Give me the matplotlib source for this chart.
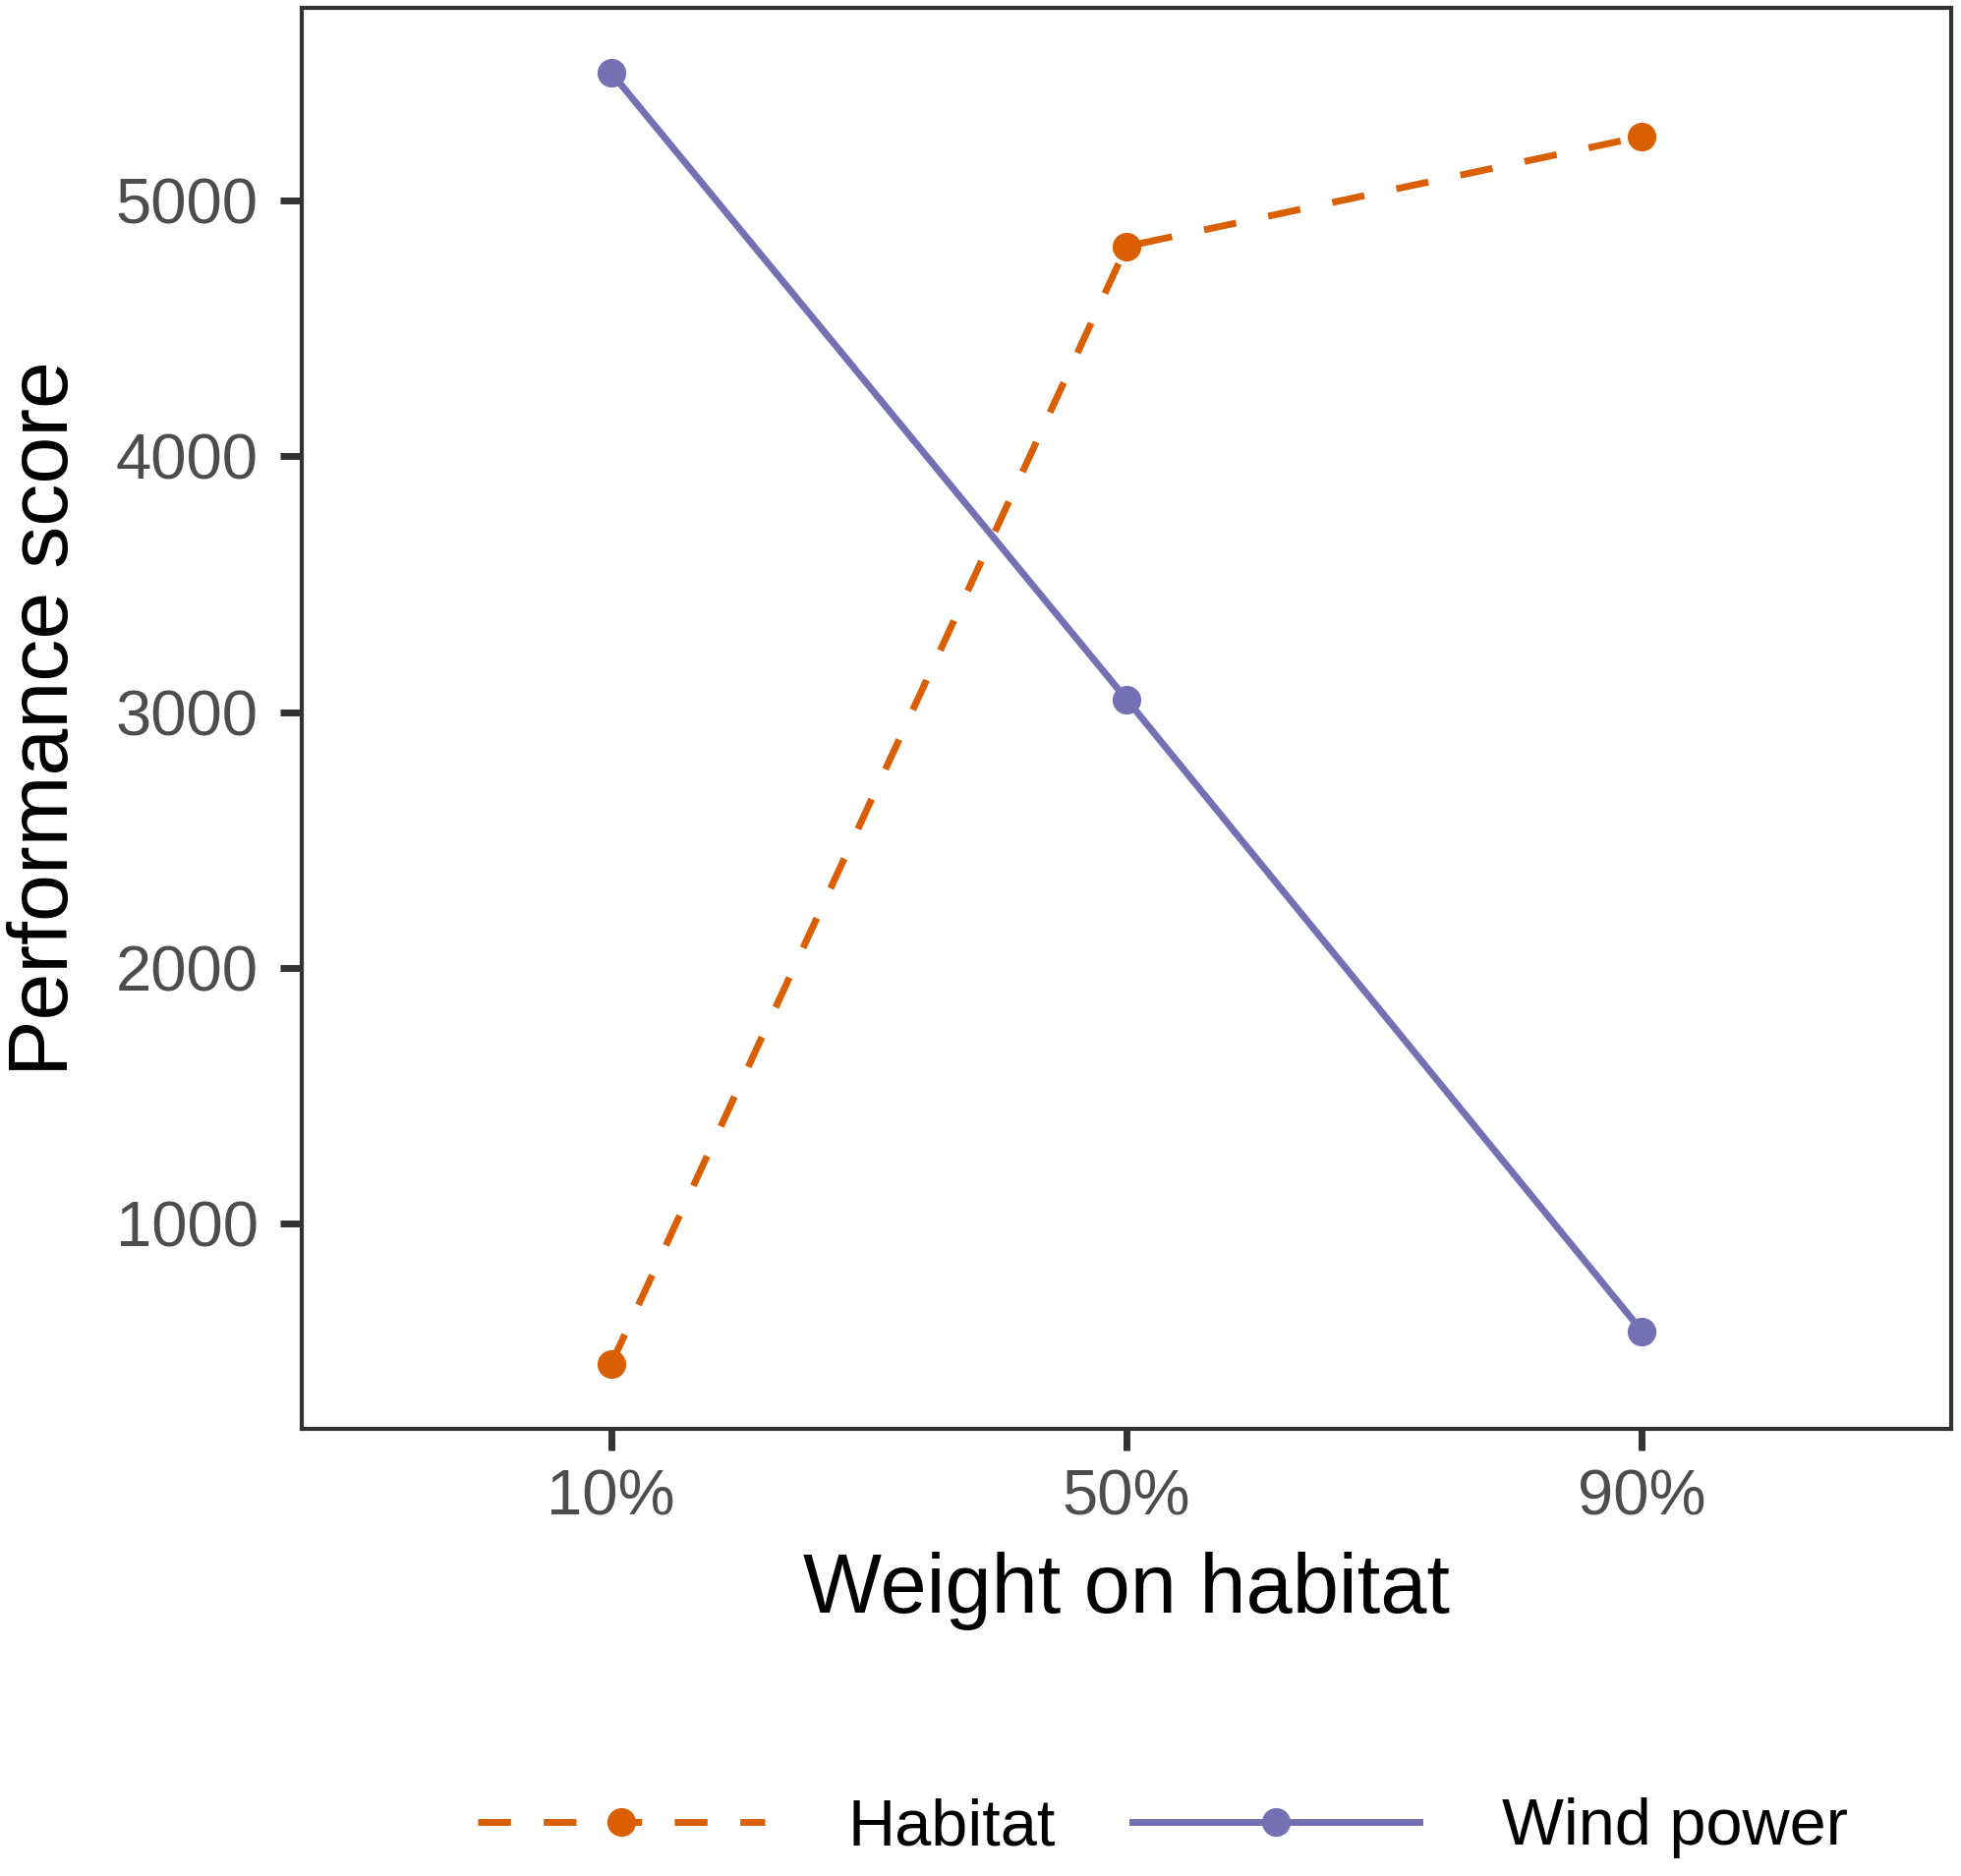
import matplotlib
matplotlib.use("Agg")
import matplotlib.pyplot as plt

plt.rcParams['font.family'] = ['Liberation Sans', 'DejaVu Sans']

# --- data ---
weights = ["10%", "50%", "90%"]
habitat = [450, 4820, 5250]
wind_power = [5500, 3050, 580]
y_ticks = [1000, 2000, 3000, 4000, 5000]

orange = "#D95F02"
purple = "#7570B3"
frame = "#333333"

fig = plt.figure(figsize=(19.95, 19.09), dpi=100)
ax = fig.add_axes([0.1539, 0.2383, 0.8411, 0.7575])

ax.plot(weights, habitat, color=orange, lw=5, dashes=(4.8, 4.8),
        marker="o", ms=20, label="Habitat")
ax.plot(weights, wind_power, color=purple, lw=5,
        marker="o", ms=20, label="Wind power")

ax.margins(x=0.3, y=0.05)
ax.set_yticks(y_ticks)

for s in ax.spines.values():
    s.set_color(frame)
    s.set_linewidth(3)
ax.tick_params(axis="both", colors=frame, width=5, length=16,
               labelsize=47, labelcolor="#4D4D4D")
ax.tick_params(axis="y", pad=16)
ax.tick_params(axis="x", pad=13)

ax.set_xlabel("Weight on habitat", fontsize=61, labelpad=18)
ax.set_ylabel("Performance score", fontsize=62, labelpad=22)

leg = fig.legend(loc="center", bbox_to_anchor=(1183 / 1995, 1 - 1860 / 1909),
                 ncol=2, frameon=False, fontsize=48, handlelength=4.38,
                 handletextpad=1.26, columnspacing=1.17, borderpad=0,
                 numpoints=1)

fig.savefig("out.png", dpi=100)
